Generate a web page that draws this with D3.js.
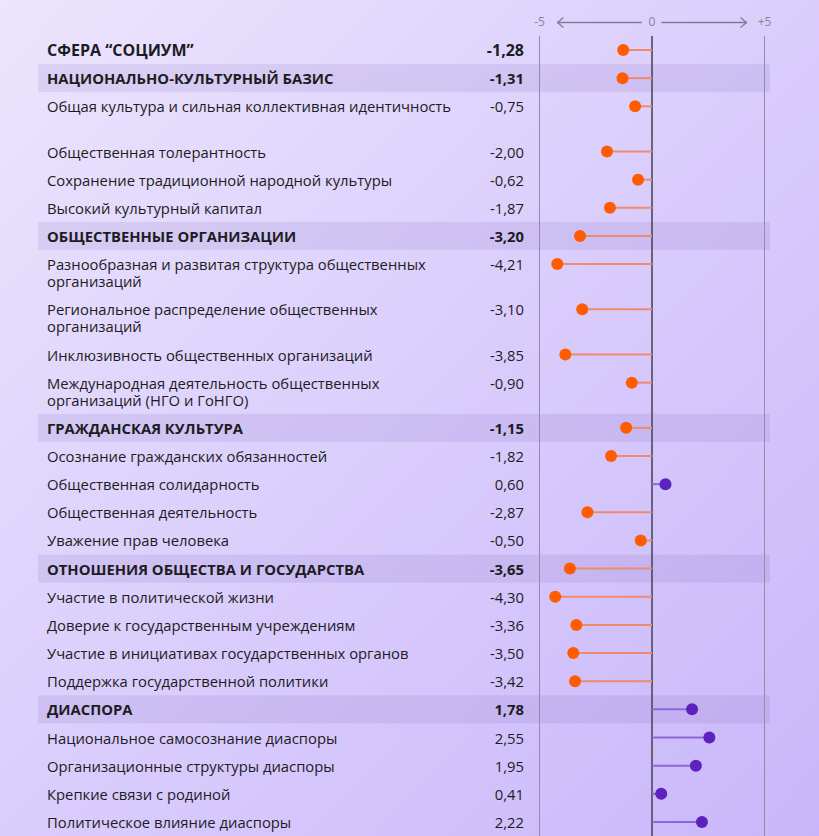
<!DOCTYPE html>
<html>
<head>
<meta charset="utf-8">
<script src="https://cdn.jsdelivr.net/npm/d3@7"></script>
<style>
  html, body { margin: 0; padding: 0; }
  body { width: 819px; height: 836px; overflow: hidden; }
  svg { display: block; font-family: "Open Sans", sans-serif; }
</style>
</head>
<body>
<svg id="chart" width="819" height="836"></svg>
<script>
// ---- data ----
const labels = [
  ["СФЕРА “СОЦИУМ”"],
  ["НАЦИОНАЛЬНО-КУЛЬТУРНЫЙ БАЗИС"],
  ["Общая культура и сильная коллективная идентичность", ""],
  ["Общественная толерантность"],
  ["Сохранение традиционной народной культуры"],
  ["Высокий культурный капитал"],
  ["ОБЩЕСТВЕННЫЕ ОРГАНИЗАЦИИ"],
  ["Разнообразная и развитая структура общественных", "организаций"],
  ["Региональное распределение общественных", "организаций"],
  ["Инклюзивность общественных организаций"],
  ["Международная деятельность общественных", "организаций (НГО и ГоНГО)"],
  ["ГРАЖДАНСКАЯ КУЛЬТУРА"],
  ["Осознание гражданских обязанностей"],
  ["Общественная солидарность"],
  ["Общественная деятельность"],
  ["Уважение прав человека"],
  ["ОТНОШЕНИЯ ОБЩЕСТВА И ГОСУДАРСТВА"],
  ["Участие в политической жизни"],
  ["Доверие к государственным учреждениям"],
  ["Участие в инициативах государственных органов"],
  ["Поддержка государственной политики"],
  ["ДИАСПОРА"],
  ["Национальное самосознание диаспоры"],
  ["Организационные структуры диаспоры"],
  ["Крепкие связи с родиной"],
  ["Политическое влияние диаспоры"]
];
const values = [
  -1.28, -1.31, -0.75, -2.00, -0.62, -1.87,
  -3.20, -4.21, -3.10, -3.85, -0.90,
  -1.15, -1.82, 0.60, -2.87, -0.50,
  -3.65, -4.30, -3.36, -3.50, -3.42,
  1.78, 2.55, 1.95, 0.41, 2.22
];
// row kind: "total", "section", "item"
const kinds = [
  "total", "section", "item", "item", "item", "item",
  "section", "item", "item", "item", "item",
  "section", "item", "item", "item", "item",
  "section", "item", "item", "item", "item",
  "section", "item", "item", "item", "item"
];
const axisTicks = [-5, 0, 5];
const axisTickLabels = ["-5", "0", "+5"];

// ---- layout ----
const W = 819, H = 836;
const svg = d3.select("#chart");

const defs = svg.append("defs");
const grad = defs.append("linearGradient").attr("id", "bg")
  .attr("x1", "0%").attr("y1", "0%").attr("x2", "100%").attr("y2", "100%");
grad.append("stop").attr("offset", "0%").attr("stop-color", "#ece5fd");
grad.append("stop").attr("offset", "55%").attr("stop-color", "#d8cbfc");
grad.append("stop").attr("offset", "100%").attr("stop-color", "#c9b6fa");
svg.append("rect").attr("width", W).attr("height", H).attr("fill", "url(#bg)");

const x = d3.scaleLinear().domain([-5, 5]).range([539.5, 764.5]);

const singleH = 28.15, tallH = 45.2, top0 = 36;
const rows = [];
let yy = top0;
labels.forEach((lines, i) => {
  const h = lines.length > 1 ? tallH : singleH;
  rows.push({ lines, value: values[i], kind: kinds[i], top: yy, h, cy: yy + 14 });
  yy += h;
});

// section bands
svg.append("g").selectAll("rect")
  .data(rows.filter(r => r.kind === "section"))
  .join("rect")
  .attr("x", 38).attr("width", 732)
  .attr("y", r => r.top).attr("height", 28)
  .attr("fill", "rgba(110, 80, 170, 0.12)");

// grid lines
const grid = svg.append("g");
grid.selectAll("line")
  .data(axisTicks)
  .join("line")
  .attr("x1", d => x(d)).attr("x2", d => x(d))
  .attr("y1", top0).attr("y2", H)
  .attr("stroke", d => d === 0 ? "#4d4858" : "#958ba9")
  .attr("stroke-width", d => d === 0 ? 1.6 : 1);

// top axis labels
const axisG = svg.append("g").attr("font-size", 12).attr("fill", "#8a8496");
axisG.selectAll("text")
  .data(axisTicks)
  .join("text")
  .attr("x", d => x(d)).attr("y", 23)
  .attr("text-anchor", "middle")
  .attr("dominant-baseline", "middle")
  .text((d, i) => axisTickLabels[i]);

// arrows
const arrowColor = "#827b93";
const ay = 22.5;
axisG.append("line").attr("x1", x(-4.2)).attr("x2", x(-0.45)).attr("y1", ay).attr("y2", ay)
  .attr("stroke", arrowColor).attr("stroke-width", 1.3);
axisG.append("path")
  .attr("d", `M${x(-4.2) + 6},${ay - 5} L${x(-4.2)},${ay} L${x(-4.2) + 6},${ay + 5}`)
  .attr("fill", "none").attr("stroke", arrowColor).attr("stroke-width", 1.3);
axisG.append("line").attr("x1", x(0.42)).attr("x2", x(4.2)).attr("y1", ay).attr("y2", ay)
  .attr("stroke", arrowColor).attr("stroke-width", 1.3);
axisG.append("path")
  .attr("d", `M${x(4.2) - 6},${ay - 5} L${x(4.2)},${ay} L${x(4.2) - 6},${ay + 5}`)
  .attr("fill", "none").attr("stroke", arrowColor).attr("stroke-width", 1.3);

// labels and values
const textG = svg.append("g").attr("fill", "#1c1c22");
rows.forEach(r => {
  const bold = r.kind !== "item";
  const fs = r.kind === "total" ? 16 : 14.8;
  const t = textG.append("text")
    .attr("x", 47)
    .attr("font-size", fs)
    .attr("font-weight", bold ? 700 : 400);
  r.lines.forEach((ln, j) => {
    t.append("tspan").attr("x", 47).attr("y", r.cy + j * 17 + 6).text(ln);
  });
  textG.append("text")
    .attr("x", 524).attr("y", r.cy + 6)
    .attr("text-anchor", "end")
    .attr("font-size", fs)
    .attr("font-weight", bold ? 700 : 400)
    .text(d3.format(".2f")(r.value).replace(".", ",").replace("−", "-"));
});

// stems
const negStem = "#f08a6c", posStem = "#8c68d6";
const negDot = "#ff5c00", posDot = "#5b22be";
svg.append("g").selectAll("line")
  .data(rows)
  .join("line")
  .attr("x1", x(0)).attr("x2", r => x(r.value))
  .attr("y1", r => r.cy).attr("y2", r => r.cy)
  .attr("stroke", r => r.value < 0 ? negStem : posStem)
  .attr("stroke-width", 2);

// dots
svg.append("g").selectAll("circle")
  .data(rows)
  .join("circle")
  .attr("cx", r => x(r.value)).attr("cy", r => r.cy)
  .attr("r", 6)
  .attr("fill", r => r.value < 0 ? negDot : posDot);
</script>
</body>
</html>
